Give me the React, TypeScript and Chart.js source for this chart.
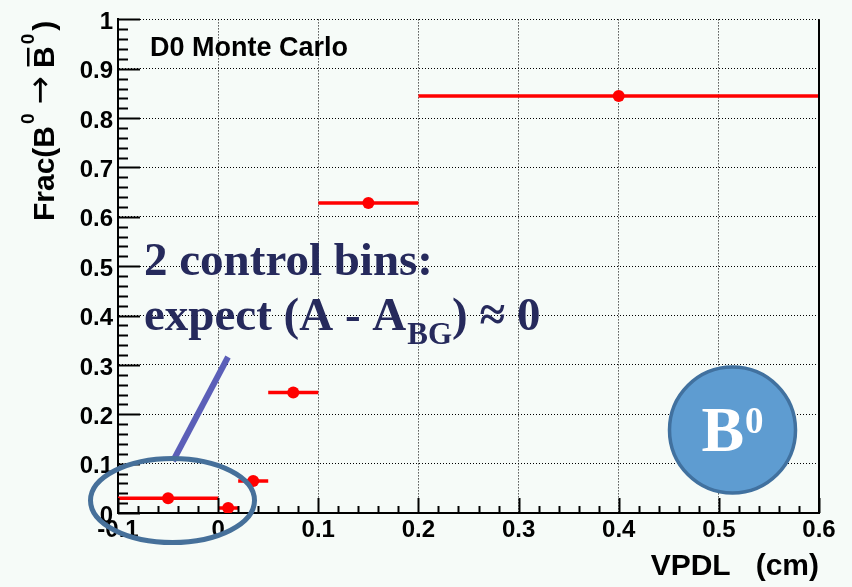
import React, { useEffect, useRef } from 'react';
import { Chart, registerables } from 'chart.js';

Chart.register(...registerables);

// ---- data ----
const binLow = [-0.1, 0, 0.02, 0.05, 0.1, 0.2];
const binHigh = [0, 0.02, 0.05, 0.1, 0.2, 0.6];
const binCenter = [-0.05, 0.01, 0.035, 0.075, 0.15, 0.4];
const fracValues = [0.03, 0.01, 0.065, 0.244, 0.628, 0.845];

const xRange = [-0.1, 0.6];
const yRange = [0, 1];
const majorStep = 0.1;
const minorStep = 0.02;

// ---- text ----
const xTitle = 'VPDL   (cm)';
const plotLabel = 'D0 Monte Carlo';
const noteLine1 = '2 control bins:';
const noteLine2a = 'expect (A - A';
const noteLine2sub = 'BG';
const noteLine2b = ') \u2248 0';
const badgeMain = 'B';
const badgeSup = '0';

// ---- style ----
const BG = '#f6fbf8';
const RED = '#ff0000';
const NOTE = '#262a5c';
const SANS = '"Liberation Sans", Arial, Helvetica, sans-serif';
const SERIF = '"Liberation Serif", "Times New Roman", serif';

const fmt = (v: number) => String(Math.round(v * 10) / 10);

const overlayPlugin = {
  id: 'overlay',
  beforeDraw(chart: any) {
    const { ctx, width, height } = chart;
    ctx.save();
    ctx.fillStyle = BG;
    ctx.fillRect(0, 0, width, height);
    ctx.restore();
  },
  afterDraw(chart: any) {
    const { ctx, chartArea: a } = chart;
    const xs = chart.scales.x;
    const ys = chart.scales.y;
    ctx.save();

    // right frame
    ctx.strokeStyle = '#000';
    ctx.lineWidth = 2;
    ctx.beginPath();
    ctx.moveTo(a.right, a.top);
    ctx.lineTo(a.right, a.bottom);
    ctx.stroke();

    // inward ticks
    ctx.lineWidth = 2;
    const nx = Math.round((xRange[1] - xRange[0]) / minorStep);
    for (let i = 0; i <= nx; i++) {
      const v = xRange[0] + i * minorStep;
      const px = Math.round(xs.getPixelForValue(v)) + 0.5;
      const major = i % 5 === 0;
      ctx.beginPath();
      ctx.moveTo(px, a.bottom);
      ctx.lineTo(px, a.bottom - (major ? 15 : 7));
      ctx.stroke();
    }
    const ny = Math.round((yRange[1] - yRange[0]) / minorStep);
    for (let i = 0; i <= ny; i++) {
      const v = yRange[0] + i * minorStep;
      const py = Math.round(ys.getPixelForValue(v)) + 0.5;
      const major = i % 5 === 0;
      ctx.beginPath();
      ctx.moveTo(a.left, py);
      ctx.lineTo(a.left + (major ? 22 : 10), py);
      ctx.stroke();
    }

    // y-axis title: Frac(B^0 -> Bbar^0)
    ctx.save();
    ctx.translate(54, 221);
    ctx.rotate(-Math.PI / 2);
    ctx.fillStyle = '#000';
    ctx.textBaseline = 'alphabetic';
    ctx.textAlign = 'left';
    const big = `bold 30px ${SANS}`;
    const sup = `bold 19px ${SANS}`;
    let p = 0;
    ctx.font = big;
    ctx.fillText('Frac(B', p, 0);
    p += ctx.measureText('Frac(B').width + 2;
    ctx.font = sup;
    ctx.fillText('0', p, -20);
    p += ctx.measureText('0').width + 9;
    ctx.font = `34px "DejaVu Sans", sans-serif`;
    ctx.fillText('\u2192', p, -3);
    p += ctx.measureText('\u2192').width + 8;
    ctx.font = big;
    const bw = ctx.measureText('B').width;
    ctx.fillText('B', p, 0);
    ctx.fillRect(p + 1.5, -27, bw - 3, 2.5);
    p += bw + 2;
    ctx.font = sup;
    ctx.fillText('0', p, -20);
    p += ctx.measureText('0').width + 3;
    ctx.font = big;
    ctx.fillText(')', p, 0);
    ctx.restore();

    // plot label
    ctx.fillStyle = '#000';
    ctx.font = `bold 27px ${SANS}`;
    ctx.textBaseline = 'alphabetic';
    ctx.textAlign = 'left';
    ctx.fillText(plotLabel, 150, 56);

    // annotation text
    ctx.fillStyle = NOTE;
    const f1 = `bold 47px ${SERIF}`;
    const fs = `bold 31px ${SERIF}`;
    ctx.font = f1;
    ctx.fillText(noteLine1, 144, 275);
    let q = 144;
    ctx.fillText(noteLine2a, q, 330);
    q += ctx.measureText(noteLine2a).width + 1;
    ctx.font = fs;
    ctx.fillText(noteLine2sub, q, 344);
    q += ctx.measureText(noteLine2sub).width;
    ctx.font = f1;
    ctx.fillText(noteLine2b, q, 330);

    // leader line
    ctx.strokeStyle = '#5b5fb8';
    ctx.lineWidth = 6;
    ctx.lineCap = 'butt';
    ctx.beginPath();
    ctx.moveTo(228, 357);
    ctx.lineTo(173, 461);
    ctx.stroke();

    // ellipse around control bins
    ctx.strokeStyle = '#46709a';
    ctx.lineWidth = 5;
    ctx.beginPath();
    ctx.ellipse(172.5, 500.5, 82, 42, 0, 0, Math.PI * 2);
    ctx.stroke();

    // B0 badge
    ctx.fillStyle = '#5e9cd1';
    ctx.strokeStyle = '#41719f';
    ctx.lineWidth = 3.5;
    ctx.beginPath();
    ctx.arc(732.5, 430, 63, 0, Math.PI * 2);
    ctx.fill();
    ctx.stroke();
    ctx.fillStyle = '#ffffff';
    ctx.font = `bold 64px ${SERIF}`;
    const wB = ctx.measureText(badgeMain).width;
    ctx.font = `bold 37px ${SERIF}`;
    const w0 = ctx.measureText(badgeSup).width;
    const sx = 732.5 - (wB + w0 + 1) / 2;
    ctx.font = `bold 64px ${SERIF}`;
    ctx.fillText(badgeMain, sx, 451);
    ctx.font = `bold 37px ${SERIF}`;
    ctx.fillText(badgeSup, sx + wB + 1, 433);

    ctx.restore();
  },
};

export default function App() {
  const ref = useRef<HTMLCanvasElement>(null);
  useEffect(() => {
    document.body.style.margin = '0';
    document.body.style.background = BG;
    const binDatasets = binLow.map((lo, i) => ({
      label: `bin${i}`,
      data: [
        { x: lo, y: fracValues[i] },
        { x: binHigh[i], y: fracValues[i] },
      ],
      showLine: true,
      borderColor: RED,
      borderWidth: 3.5,
      pointRadius: 0,
      fill: false,
    }));
    const pointDataset = {
      label: 'frac',
      data: binCenter.map((c, i) => ({ x: c, y: fracValues[i] })),
      showLine: false,
      pointRadius: 6,
      pointBackgroundColor: RED,
      pointBorderColor: RED,
      pointBorderWidth: 0,
      backgroundColor: RED,
      borderColor: RED,
    };
    const tickFont = { family: SANS, size: 24, weight: 'bold' as const };
    const chart = new Chart(ref.current!, {
      type: 'scatter',
      data: { datasets: [...binDatasets, pointDataset] as any },
      options: {
        animation: false,
        responsive: false,
        layout: { padding: { top: 15, right: 33, left: 0, bottom: 0 } },
        plugins: { legend: { display: false }, tooltip: { enabled: false } },
        scales: {
          x: {
            type: 'linear',
            min: xRange[0],
            max: xRange[1],
            ticks: {
              stepSize: majorStep,
              color: '#000',
              font: tickFont,
              padding: 3,
              maxRotation: 0,
              autoSkip: false,
              callback: (v: any) => fmt(Number(v)),
            },
            grid: { color: '#000', lineWidth: 1, drawTicks: false },
            border: { display: true, color: '#000', width: 2, dash: [1, 2] },
            title: {
              display: true,
              text: xTitle,
              align: 'end',
              color: '#000',
              font: { family: SANS, size: 30, weight: 'bold' },
              padding: { top: 0, bottom: 2 },
            },
            afterFit: (s: any) => {
              s.height = 74;
            },
          },
          y: {
            type: 'linear',
            min: yRange[0],
            max: yRange[1],
            ticks: {
              stepSize: majorStep,
              color: '#000',
              font: tickFont,
              padding: 5,
              labelOffset: 3,
              autoSkip: false,
              callback: (v: any) => fmt(Number(v)),
            },
            grid: { color: '#000', lineWidth: 1, drawTicks: false },
            border: { display: true, color: '#000', width: 2, dash: [1, 2] },
            afterFit: (s: any) => {
              s.width = 118;
            },
          },
        },
      } as any,
      plugins: [overlayPlugin],
    });
    return () => chart.destroy();
  }, []);
  return (
    <div style={{ position: 'relative', width: 852, height: 587 }}>
      <canvas ref={ref} width={852} height={587} style={{ display: 'block', width: 852, height: 587 }} />
    </div>
  );
}
